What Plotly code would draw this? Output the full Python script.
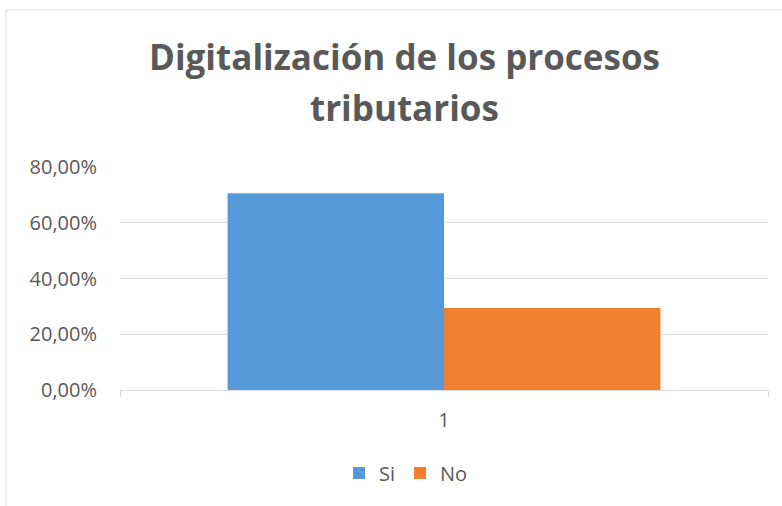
import plotly.graph_objects as go

categories = ["1"]
series_names = ["Si", "No"]
si_values = [0.7059]
no_values = [0.2941]
colors = {"Si": "#5699D8", "No": "#F07F2F"}
y_ticks = [0, 0.2, 0.4, 0.6, 0.8]
y_tick_labels = ["0,00%", "20,00%", "40,00%", "60,00%", "80,00%"]
title_lines = ["Digitalización de los procesos", "tributarios"]

W, H = 782, 506
# target plot area in screen pixels: x 120..768, y 167..390
L, T = 120, 167
R = W - 768
B = H - 390
pw, ph = W - L - R, H - T - B


def px_x(x):  # screen px -> paper x
    return (x - 120) / pw


def px_y(y):  # screen px -> paper y
    return (390 - y) / ph


fig = go.Figure()
for name, vals in zip(series_names, [si_values, no_values]):
    fig.add_trace(go.Bar(x=categories, y=vals, name=name,
                         marker=dict(color=colors[name], line=dict(width=0))))

font_fam = "Open Sans, Liberation Sans, sans-serif"
fig.update_layout(
    width=W, height=H,
    margin=dict(l=L, r=R, t=T, b=B, autoexpand=False),
    paper_bgcolor="white", plot_bgcolor="white",
    barmode="group", bargap=0.332, bargroupgap=0,
    font=dict(family=font_fam, color="#595959", size=20),
    showlegend=True,
    legend=dict(orientation="h", x=px_x(406), xanchor="center",
                y=px_y(473), yanchor="middle",
                font=dict(size=20, color="#595959"), itemwidth=30,
                traceorder="normal"),
    xaxis=dict(type="category", showgrid=False, showline=True,
               linecolor="#d9d9d9", linewidth=1, ticks="outside",
               tickson="boundaries", ticklen=6, tickcolor="#d9d9d9",
               tickfont=dict(size=20, color="#595959"), ticklabelstandoff=12,
               fixedrange=True),
    yaxis=dict(range=[0, 0.8], tickvals=y_ticks, ticktext=y_tick_labels,
               showgrid=True, gridcolor="#d9d9d9", gridwidth=1,
               zeroline=False, showline=False, ticks="",
               ticklabelstandoff=22,
               tickfont=dict(size=20, color="#595959")),
)

for txt, yc in zip(title_lines, [57, 108]):
    fig.add_annotation(text="<b>" + txt + "</b>", xref="paper", yref="paper",
                       x=px_x(404), y=px_y(yc), xanchor="center",
                       yanchor="middle", showarrow=False,
                       font=dict(size=35, color="#595959", family=font_fam))

# chart border
fig.add_shape(type="rect", xref="paper", yref="paper",
              x0=px_x(6), x1=1.3, y0=-1.2, y1=px_y(10),
              line=dict(color="#d9d9d9", width=1), fillcolor="rgba(0,0,0,0)",
              layer="below")

fig.write_html("out.html", config={"displayModeBar": False},
               post_script="document.body.style.margin='0';")
